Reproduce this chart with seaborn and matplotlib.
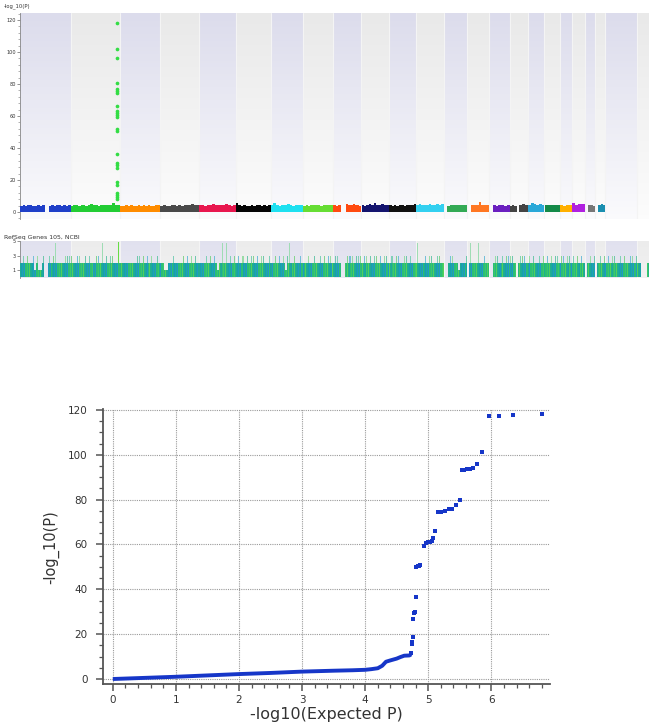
import numpy as np
import pandas as pd
import matplotlib
matplotlib.use("Agg")
import matplotlib.pyplot as plt
from matplotlib.ticker import MultipleLocator, FixedLocator
import seaborn as sns

sns.set_theme(style="white")
plt.rcParams['font.family'] = ['DejaVu Sans']

# ---------------- data ----------------
chrom_names = ['1', '2', '3', '4', '5', '6', '7', '8', '9', '10', '11', '12', '13', '14',
               '15', '16', '17', '18', '19', '20', '21', '22', 'X', 'Y']
chrom_len_mb = [249.25, 243.2, 198.0, 191.15, 180.9, 171.1, 159.1, 146.4, 141.2, 135.5,
                135.0, 133.9, 115.2, 107.3, 102.5, 90.4, 81.2, 78.1, 59.1, 63.0, 48.1,
                51.3, 155.3, 59.4]
chrom_colors = ['#1f3fc8', '#22cc33', '#ff8c00', '#4a4a4a', '#e8174f', '#050505', '#1ee0f0',
                '#66dd33', '#ff4a10', '#14146e', '#111111', '#33d0f0', '#33aa55', '#ff7722',
                '#6a1fc0', '#444444', '#2aa8d8', '#148a48', '#ffb000', '#b020e0', '#777777',
                '#1a8fb0']

# Manhattan: genomic segments with data (Mb) and top envelope of the dense -log10(P) cloud
manh_segments = [
    [(0.5, 121), (143, 249)], [(0.5, 242)], [(0.5, 197.5)], [(0.5, 190.5)], [(0.5, 180.5)],
    [(0.5, 170.5)], [(0.5, 158.8)], [(0.5, 146)], [(0.5, 40), (67, 140.5)], [(0.5, 135)],
    [(0.5, 134.5)], [(0.5, 133.5)], [(19, 114.8)], [(19, 107)], [(20, 102)],
    [(0.5, 35), (46, 90)], [(0.5, 81)], [(0.5, 77.8)], [(0.5, 59)], [(0.5, 62.8)],
    [(14, 48)], [(16, 51)]]
manh_envelope = [
    [[3.9, 4.3, 3.8, 4.1, 4.6, 3.9, 4.0, 4.4, 3.8, 4.2], [4.0, 4.4, 3.9, 4.5, 4.1, 4.0, 4.3, 3.9, 4.4]],
    [[3.8, 4.1, 4.4, 3.9, 4.5, 4.2, 4.0, 4.3, 4.7, 4.1, 4.4, 4.0, 4.5, 4.3, 4.1, 4.6, 4.2, 5.3, 4.4, 4.6]],
    [[4.0, 3.7, 4.2, 3.9, 4.1, 3.8, 4.0, 4.3, 3.9, 4.1, 3.8, 4.2, 4.0, 3.9, 4.5, 4.1]],
    [[3.9, 4.2, 3.8, 4.0, 4.3, 4.1, 3.9, 4.4, 4.0, 4.6, 4.2, 4.3, 4.9, 4.4, 4.1]],
    [[4.1, 4.5, 4.0, 4.4, 4.2, 4.8, 4.3, 4.1, 4.6, 4.2, 5.2, 4.4, 4.0, 4.5]],
    [[5.3, 4.2, 3.9, 4.1, 3.8, 4.0, 4.3, 3.9, 4.2, 4.5, 4.0, 4.3, 3.9, 4.1]],
    [[4.2, 5.6, 4.3, 4.0, 4.4, 4.1, 5.0, 4.2, 4.0, 4.3, 4.1, 4.4]],
    [[4.0, 4.3, 3.9, 4.4, 4.1, 4.6, 4.2, 4.0, 4.5, 4.3, 4.1, 4.4]],
    [[4.2, 4.0, 4.6], [4.8, 4.3, 4.1, 5.0, 4.2, 4.4, 4.0]],
    [[4.3, 4.0, 4.6, 4.9, 4.2, 5.3, 4.1, 4.6, 4.9, 4.3, 4.5]],
    [[4.1, 4.0, 4.2, 4.0, 4.3, 4.1, 4.0, 4.4, 4.2, 4.5, 4.8]],
    [[4.4, 4.9, 4.3, 4.6, 4.2, 5.0, 4.4, 4.3, 4.8, 4.2, 5.1]],
    [[4.0, 4.3, 4.6, 4.2, 4.4, 4.1, 4.5, 4.3]],
    [[4.2, 4.4, 4.3, 6.0, 4.5, 4.6, 4.3]],
    [[4.1, 4.0, 4.3, 4.2, 4.0, 4.4]],
    [[4.0, 4.3, 3.9], [4.4, 5.2, 4.1]],
    [[4.5, 5.8, 4.7, 4.4, 4.9, 4.6]],
    [[4.3, 4.6, 4.2, 4.5, 4.3, 4.6]],
    [[4.4, 4.0, 4.3, 4.1]],
    [[5.4, 4.6, 5.1, 4.7, 5.0]],
    [[4.1, 4.3, 4.0]],
    [[4.3, 5.0, 4.2]]]

# Manhattan: significant SNPs on chromosome 2
peak_chrom = '2'
peak_pos_mb = 230.0
peak_logp = [118.3, 101.7, 96.5, 80.4, 76.9, 75.8, 74.6, 66.5, 63.1, 61.7, 60.6, 59.6,
             51.7, 50.6, 36.5, 30.4, 29.4, 27.3, 19.0, 16.9, 11.7, 10.6, 9.2, 7.9]

# Gene track (RefSeq Genes 105), 10-Mb bins per chromosome:
# ' ' no genes, '.' two lanes, '_' one lane, 'o' extra third-lane gene, 'T' tall stack, 'G' tall (bright)
gene_bins = [
    ".o.o..o_o__o  o.oT....ooo", "o..oo..o.o..oo.T.o.oo..Go", "........oo.o.o.o..o.",
    "..__..o....o.o.o.o..", "...o.o.o._.T.T.o.o.", ".o.o.o.oo.o.oo..o.", "..o.o.o_oT.o..o.",
    "..o..o..o.o.oo.", ".oo.  .ooo.ooo.", ".oo.o.oo.o.oo.", ".o.oo..oo.o...", "T...o.oo..oo..",
    "  .oo.._...o", " T...T..o..", "  .oo.o.oo.", "oo. .ooo..", "o.o..o.o.", ".o.o.oo.",
    "oo.oo.", "o.o.o..", " .o.o", " .o.o.", ".o.oo..o.o..oo.o", "..   ."]

# QQ plot: dense part (drawn as a thick trace) and tail points
qq_line_exp = [0.0, 0.5, 1.0, 1.5, 2.0, 2.5, 3.0, 3.5, 3.8, 4.0, 4.1, 4.2, 4.27, 4.33,
               4.4, 4.5, 4.56, 4.62, 4.7, 4.73]
qq_line_obs = [0.0, 0.5, 1.0, 1.6, 2.2, 2.7, 3.3, 3.7, 3.9, 4.1, 4.4, 4.8, 5.9, 7.7,
               8.3, 9.1, 9.8, 10.4, 10.5, 11.0]
qq_tail_exp = [4.73, 4.74, 4.75, 4.76, 4.76, 4.78, 4.79, 4.80, 4.81, 4.83, 4.85, 4.87,
               4.94, 4.96, 5.00, 5.03, 5.06, 5.08, 5.11, 5.15, 5.20, 5.26, 5.33, 5.38,
               5.44, 5.50, 5.53, 5.57, 5.62, 5.66, 5.71, 5.77, 5.86, 5.97, 6.12, 6.34, 6.81]
qq_tail_obs = [11.4, 15.7, 16.6, 18.7, 26.9, 29.3, 30.0, 36.5, 50.0, 50.3, 50.6, 50.8,
               59.4, 60.5, 61.0, 61.2, 61.6, 62.7, 66.1, 74.3, 74.6, 75.1, 75.6, 75.8,
               77.8, 79.6, 93.0, 93.3, 93.6, 93.8, 94.2, 96.0, 101.0, 117.3, 117.3, 117.8, 118.1]

# ---------------- layout ----------------
W, H = 655, 726
fig = plt.figure(figsize=(W / 100, H / 100), dpi=100)
fig.patch.set_facecolor('white')

offsets = np.concatenate([[0], np.cumsum(chrom_len_mb)])
genome_end = offsets[-1]
band_cols = ['#dcdcec', '#e9e9e9']


def draw_bands(ax, ymin, ymax, fade):
    for i, L in enumerate(chrom_len_mb):
        ax.axvspan(offsets[i], offsets[i] + L, color=band_cols[i % 2], lw=0, zorder=0)
        if i > 0:
            ax.axvline(offsets[i], color='#f4f4f4', lw=0.8, zorder=1.2)
    n = 200
    grad = np.ones((n, 1, 4))
    grad[:, 0, 3] = np.linspace(fade[0], fade[1], n)
    ax.imshow(grad, extent=[0, genome_end, ymin, ymax], aspect='auto', zorder=1,
              origin='upper', interpolation='bilinear')
    ax.set_xlim(0, genome_end)
    ax.set_ylim(ymin, ymax)


# ---- Manhattan panel ----
axm = fig.add_axes([20 / W, 1 - 219 / H, 629 / W, 206 / H])
draw_bands(axm, -4.4, 124.4, (0.0, 0.88))
for i in range(22):
    for (s, e), env in zip(manh_segments[i], manh_envelope[i]):
        edges = np.linspace(offsets[i] + s, offsets[i] + e, len(env) + 1)
        axm.stairs(env, edges, baseline=0.1, fill=True, color=chrom_colors[i], lw=0, zorder=3)
ci = chrom_names.index(peak_chrom)
peak_df = pd.DataFrame({'pos': [offsets[ci] + peak_pos_mb] * len(peak_logp), 'logp': peak_logp})
sns.scatterplot(data=peak_df, x='pos', y='logp', ax=axm, color='#33dd44', s=7,
                linewidth=0, zorder=5, legend=False)
axm.set_xlim(0, genome_end)
axm.set_ylim(-4.4, 124.4)
axm.set_xlabel('')
axm.set_ylabel('')
axm.set_xticks([])
axm.yaxis.set_major_locator(MultipleLocator(20))
axm.yaxis.set_minor_locator(MultipleLocator(4))
axm.tick_params(axis='y', which='major', labelsize=3.6, length=2.2, width=0.5,
                colors='#666', labelcolor='#333', pad=0.8, left=True)
axm.tick_params(axis='y', which='minor', length=1.2, width=0.4, colors='#777', left=True)
for sp in ['top', 'right', 'bottom']:
    axm.spines[sp].set_visible(False)
axm.spines['left'].set_color('#888')
axm.spines['left'].set_linewidth(0.6)
fig.text(4 / W, 1 - 3 / H, '-log_10(P)', fontsize=3.8, color='#333', va='top', ha='left')

# ---- Gene track panel ----
axg = fig.add_axes([20 / W, 1 - 278 / H, 629 / W, 36.5 / H])
draw_bands(axg, -0.12, 5.0, (0.15, 0.35))
base_cycle = ['#1fa89b', '#2bbd7a', '#17a3a6', '#3cc965', '#1d9cc0', '#26b585', '#20ab95',
              '#52d05a', '#2196c8', '#1fb08e', '#2cc070']
pale_cycle = ['#7fcfb8', '#86d48f', '#74bfd8', '#9adca6', '#6fc7ad']
bx, bw, bb, bh, bc = [], [], [], [], []
k = 0
m = 0
for i, pat in enumerate(gene_bins):
    L = chrom_len_mb[i]
    for j, c in enumerate(pat):
        x0 = offsets[i] + j * 10
        wbin = min(10, L - j * 10)
        if c == ' ' or wbin <= 0:
            continue
        nst = 4
        for q in range(nst):
            bx.append(x0 + q * wbin / nst)
            bw.append(wbin / nst)
            bb.append(0)
            bh.append(1.0 if c == '_' else 1.95)
            bc.append(base_cycle[k % len(base_cycle)])
            k += 1
        if c in 'oTG':
            bx.append(x0 + 0.25 * wbin)
            bw.append(0.5 * wbin)
            bb.append(1.95)
            bh.append({'o': 1.0, 'T': 2.9, 'G': 2.95}[c])
            bc.append('#66dd44' if c == 'G' else ('#9fdcb4' if c == 'T' else pale_cycle[m % len(pale_cycle)]))
            m += 1
axg.bar(bx, bh, width=bw, bottom=bb, color=bc, align='edge', linewidth=0, zorder=3)
axg.set_xlim(0, genome_end)
axg.set_ylim(-0.12, 5.0)
axg.set_xticks([])
axg.yaxis.set_major_locator(FixedLocator([1, 3, 5]))
axg.set_yticklabels(['1', '3', '5'])
axg.tick_params(axis='y', which='major', labelsize=3.6, length=2.0, width=0.5,
                colors='#666', labelcolor='#333', pad=0.8, left=True)
for sp in ['top', 'right', 'bottom']:
    axg.spines[sp].set_visible(False)
axg.spines['left'].set_color('#888')
axg.spines['left'].set_linewidth(0.6)
fig.text(4 / W, 1 - 237 / H, 'RefSeq Genes 105, NCBI', fontsize=4.4, color='#333',
         va='center', ha='left')

# ---- QQ plot ----
blue = '#1636c8'
axq = fig.add_axes([102.7 / W, 1 - 684.3 / H, (550 - 102.7) / W, (684.3 - 409.2) / H])
axq.set_facecolor('white')
line_df = pd.DataFrame({'exp': qq_line_exp, 'obs': qq_line_obs})
tail_df = pd.DataFrame({'exp': qq_tail_exp, 'obs': qq_tail_obs})
sns.lineplot(data=line_df, x='exp', y='obs', ax=axq, color=blue, lw=2.8, sort=False,
             estimator=None, zorder=4, solid_capstyle='butt')
sns.scatterplot(data=tail_df, x='exp', y='obs', ax=axq, color=blue, marker='s', s=8,
                linewidth=0, zorder=5, legend=False)
axq.set_xlim(-0.16, 6.93)
axq.set_ylim(-2.36, 120.3)
axq.xaxis.set_major_locator(MultipleLocator(1))
axq.xaxis.set_minor_locator(MultipleLocator(0.2))
axq.yaxis.set_major_locator(MultipleLocator(20))
axq.yaxis.set_minor_locator(MultipleLocator(5))
axq.grid(True, which='major', color='#9a9a9a', linestyle=(0, (1, 1)), linewidth=0.8)
axq.set_axisbelow(True)
for sp in ['top', 'right']:
    axq.spines[sp].set_visible(False)
for sp in ['left', 'bottom']:
    axq.spines[sp].set_color('#555')
    axq.spines[sp].set_linewidth(1.3)
axq.tick_params(axis='both', which='major', direction='out', length=5, width=1.1,
                colors='#555', labelcolor='#333', labelsize=7.5, bottom=True, left=True)
axq.tick_params(axis='both', which='minor', direction='out', length=2.8, width=0.9,
                colors='#555', bottom=True, left=True)
axq.tick_params(axis='y', which='major', pad=6)
axq.tick_params(axis='x', which='major', pad=3)
axq.set_xlabel('-log10(Expected P)', fontsize=11.5, color='#333', labelpad=1)
axq.set_ylabel('-log_10(P)', fontsize=10.5, color='#333', labelpad=6)

fig.savefig('out.png', dpi=100, facecolor='white')
